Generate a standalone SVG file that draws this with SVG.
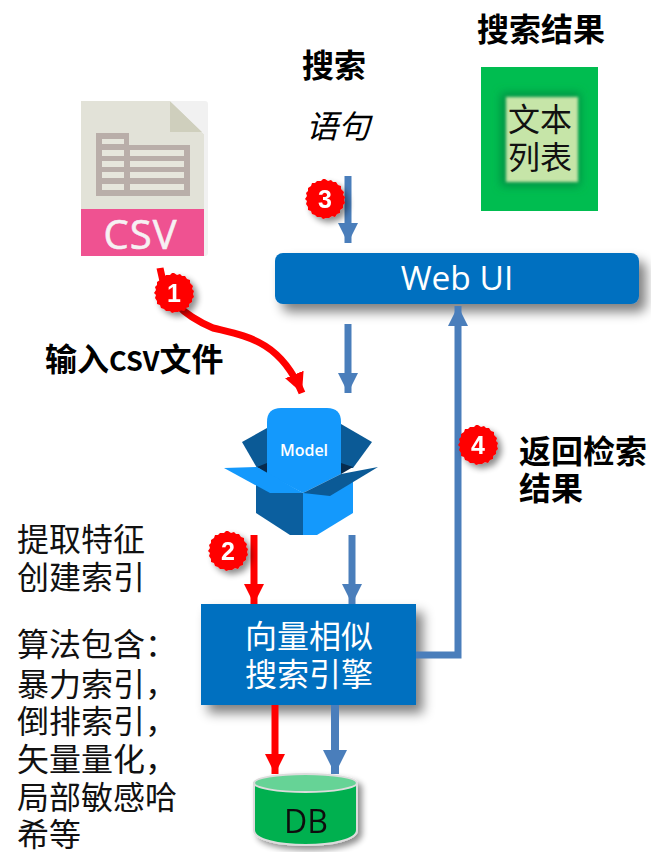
<svg xmlns="http://www.w3.org/2000/svg" width="651" height="852" viewBox="0 0 651 852">
<style>
text{font-family:"Noto Sans CJK SC","Liberation Sans",sans-serif}
.b{font-weight:700;font-size:32px;fill:#000}
.r{font-size:32px;fill:#111}
.w{font-size:32px;fill:#fff;text-anchor:middle}
.n{font-family:"Liberation Sans",sans-serif;font-weight:700;font-size:25px;fill:#fff;text-anchor:middle}
.s{fill:none;stroke-width:7}
</style>
<defs>
<filter id="sh" x="-20%" y="-30%" width="140%" height="170%"><feGaussianBlur in="SourceAlpha" stdDeviation="6"/><feOffset dx="7" dy="8"/><feComponentTransfer><feFuncA type="linear" slope=".5"/></feComponentTransfer><feMerge><feMergeNode/><feMergeNode in="SourceGraphic"/></feMerge></filter>
<filter id="sm" x="-30%" y="-30%" width="170%" height="170%"><feGaussianBlur in="SourceAlpha" stdDeviation="3"/><feOffset dx="4" dy="4"/><feComponentTransfer><feFuncA type="linear" slope=".45"/></feComponentTransfer><feMerge><feMergeNode/><feMergeNode in="SourceGraphic"/></feMerge></filter>
<filter id="gl" x="-30%" y="-30%" width="160%" height="160%"><feGaussianBlur stdDeviation="5"/></filter>
<filter id="gs" x="-10%" y="-10%" width="120%" height="120%"><feGaussianBlur stdDeviation="1.500"/></filter>
<marker id="ab" markerUnits="userSpaceOnUse" markerWidth="22" markerHeight="22" refX="20" refY="11" orient="auto"><path d="M0 1L20 11L0 21Z" fill="#4a7ebb"/></marker>
<marker id="abl" markerUnits="userSpaceOnUse" markerWidth="26" markerHeight="26" refX="24" refY="13" orient="auto"><path d="M0 1L24 13L0 25Z" fill="#4a7ebb"/></marker>
<marker id="ar" markerUnits="userSpaceOnUse" markerWidth="22" markerHeight="22" refX="20" refY="11" orient="auto"><path d="M0 1L20 11L0 21Z" fill="#f00"/></marker>
<polygon id="badge" points="0,-20 3,-18 6,-19 8,-17 11,-17 13,-14 16,-13 16,-10 19,-7 18,-4 20,-2 19,1 20,4 18,6 18,9 15,11 15,14 12,15 10,18 7,17 4,19 1,19 -2,20 -4,18 -8,18 -10,16 -13,15 -14,12 -17,11 -17,8 -19,5 -18,2 -20,0 -18,-3 -19,-6 -17,-8 -17,-11 -14,-13 -13,-16 -10,-16 -8,-18 -4,-18 -2,-20" fill="#f00"/>
</defs>

<g id="node-csv">
<path d="M81 101H170L204 134V256H81Z" fill="#e2e2d8"/>
<path d="M170 101L203 132H170Z" fill="#cfcfbd"/>
<path d="M170 101H205Q208 101 208 104V253Q208 256 205 256H204V134Z" fill="#f1f1f1"/>
<path d="M96 133H129V145H190V196H96Z" fill="#b9aea9"/>
<path d="M102 139H124V144H102ZM102 150H124V156H102ZM102 161H124V167H102ZM102 172H124V178H102ZM102 184H124V190H102ZM130 150H184V156H130ZM130 161H184V167H130ZM130 172H184V178H130ZM130 184H184V190H130Z" fill="#e6e6dc"/>
<rect x="81" y="209" width="123" height="47" fill="#ef5291"/>
<text x="140" y="249" textLength="73" lengthAdjust="spacing" style="font-family:'Open Sans',sans-serif;font-size:40px;text-anchor:middle" fill="#f6f1f3" stroke="#f6f1f3" stroke-width=".6">CSV</text>
</g>

<g id="label-search"><text class="b" x="302" y="77">搜索</text></g>
<g id="label-query"><text x="306" y="138" style="font-size:32px;font-style:italic" fill="#000">语句</text></g>

<g id="label-results"><text class="b" x="477" y="41">搜索结果</text></g>
<g id="node-textlist">
<rect x="481" y="67" width="117" height="144" fill="#00bd50"/>
<rect x="501" y="93" width="79" height="93" fill="#058f42" filter="url(#gl)"/>
<rect x="506" y="97" width="72" height="85" fill="#c6e5a8" filter="url(#gs)"/>
<text x="540" y="131" text-anchor="middle" style="font-size:32px" fill="#111">文本</text>
<text x="540" y="169" text-anchor="middle" style="font-size:32px" fill="#111">列表</text>
</g>

<g id="node-webui">
<rect x="275" y="253" width="364" height="51" rx="8" fill="#0070c0" filter="url(#sh)"/>
<text x="457" y="290" style="font-family:'Open Sans',sans-serif;font-size:33.500px;text-anchor:middle" fill="#fff">Web UI</text>
</g>

<g id="label-input"><text class="b" x="45" y="371">输入<tspan font-size="27">CSV</tspan>文件</text></g>

<g id="node-model">
<path d="M267 428L242 442L257 468H267Z" fill="#0b5a96"/>
<path d="M341 424L372 442L353 468H341Z" fill="#0b5a96"/>
<path d="M257 467L267 463V474ZM353 467L341 463V474Z" fill="#072b4e"/>
<path d="M256 478L303 493V535H290L256 513Z" fill="#0b5f9f"/>
<path d="M303 493L353 478V513L317 535H303Z" fill="#1499fc"/>
<path d="M267 422Q267 408 281 408H327Q341 408 341 422V474L303 493L267 474Z" fill="#1499fc"/>
<path d="M224 468L257 467L303 493L270 493Z" fill="#1499fc"/>
<path d="M303 493L341 474L378 467L330 496Z" fill="#0b5a96"/>
<text x="304" y="456" style="font-family:'Open Sans',sans-serif;font-weight:600;font-size:16px;text-anchor:middle" fill="#fff">Model</text>
</g>

<g id="node-engine">
<rect x="201" y="604" width="215" height="101" fill="#0070c0" filter="url(#sh)"/>
<text class="w" x="309" y="648">向量相似</text>
<text class="w" x="309" y="686">搜索引擎</text>
</g>

<g id="node-db" filter="url(#sm)">
<path d="M254 783V830C254 850 357 850 357 830V783Z" fill="#00b050" stroke="#dcdcdc" stroke-width="2"/>
<ellipse cx="305.500" cy="783" rx="51.500" ry="9" fill="#66d396" stroke="#dcdcdc" stroke-width="2"/>
<text x="306" y="833" style="font-family:'Open Sans',sans-serif;font-size:32px;text-anchor:middle" fill="#111">DB</text>
</g>

<g id="connectors">
<path class="s" d="M348 176V243" stroke="#4a7ebb" marker-end="url(#ab)"/>
<path class="s" d="M348 324V393" stroke="#4a7ebb" marker-end="url(#ab)"/>
<path class="s" d="M352 535V604" stroke="#4a7ebb" marker-end="url(#ab)"/>
<path class="s" d="M254 535V604" stroke="#f00" marker-end="url(#ar)"/>
<path class="s" d="M416 655H458V306" stroke="#4a7ebb" marker-end="url(#ab)"/>
<path d="M275 705V774" stroke="#f00" stroke-width="7" fill="none" marker-end="url(#ar)"/>
<path d="M335 705V774" stroke="#4a7ebb" stroke-width="8" fill="none" marker-end="url(#abl)"/>
<path d="M160 268C165 300 185 316 213 328C245 336 280 340 302 393" fill="none" stroke="#f00" stroke-width="7" marker-end="url(#ar)"/>
</g>

<g id="label-features">
<text class="r" x="17" y="551">提取特征</text>
<text class="r" x="17" y="589">创建索引</text>
</g>
<g id="label-algos">
<text class="r" x="17" y="656">算法包含：</text>
<text class="r" x="17" y="696">暴力索引，</text>
<text class="r" x="17" y="733">倒排索引，</text>
<text class="r" x="17" y="771">矢量量化，</text>
<text class="r" x="17" y="809">局部敏感哈</text>
<text class="r" x="17" y="846">希等</text>
</g>
<g id="label-return">
<text class="b" x="519" y="463">返回检索</text>
<text class="b" x="519" y="500">结果</text>
</g>

<g id="badge-1" filter="url(#sm)"><use href="#badge" x="174" y="293"/><text class="n" x="174" y="302">1</text></g>
<g id="badge-2" filter="url(#sm)"><use href="#badge" x="228" y="551"/><text class="n" x="228" y="560">2</text></g>
<g id="badge-3" filter="url(#sm)"><use href="#badge" x="325" y="199"/><text class="n" x="325" y="208">3</text></g>
<g id="badge-4" filter="url(#sm)"><use href="#badge" x="478" y="445"/><text class="n" x="478" y="454">4</text></g>
</svg>
